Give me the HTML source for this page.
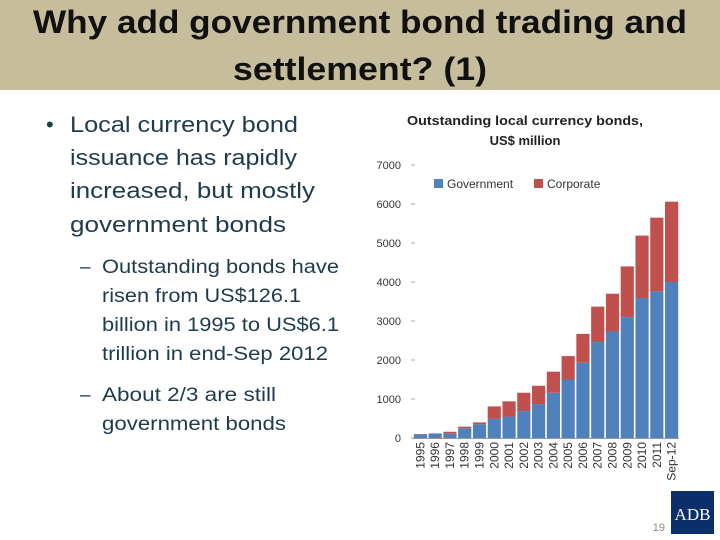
<!DOCTYPE html>
<html><head><meta charset="utf-8"><style>
html,body{margin:0;padding:0;background:#fff;}
svg{display:block;font-family:"Liberation Sans",sans-serif;}
</style></head><body>
<svg id="s" width="720" height="540" viewBox="0 0 720 540">
<rect x="0" y="0" width="720" height="90" fill="#c5bd9b"/>
<text x="360" y="33" text-anchor="middle" font-size="32" font-weight="bold" fill="#111" textLength="654" lengthAdjust="spacingAndGlyphs">Why add government bond trading and</text>
<text x="360" y="80" text-anchor="middle" font-size="32" font-weight="bold" fill="#111" textLength="254" lengthAdjust="spacingAndGlyphs">settlement? (1)</text>
<g fill="#1e3b4b" font-size="22">
<text x="46" y="132">•</text>
<text x="70" y="132" textLength="228" lengthAdjust="spacingAndGlyphs">Local currency bond</text>
<text x="70" y="165" textLength="227" lengthAdjust="spacingAndGlyphs">issuance has rapidly</text>
<text x="70" y="198" textLength="245" lengthAdjust="spacingAndGlyphs">increased, but mostly</text>
<text x="70" y="232" textLength="216" lengthAdjust="spacingAndGlyphs">government bonds</text>
</g>
<g fill="#1e3b4b" font-size="19">
<text x="80" y="273">–</text>
<text x="102" y="273" textLength="237" lengthAdjust="spacingAndGlyphs">Outstanding bonds have</text>
<text x="102" y="302" textLength="199" lengthAdjust="spacingAndGlyphs">risen from US$126.1</text>
<text x="102" y="331" textLength="237" lengthAdjust="spacingAndGlyphs">billion in 1995 to US$6.1</text>
<text x="102" y="360" textLength="226" lengthAdjust="spacingAndGlyphs">trillion in end-Sep 2012</text>
<text x="80" y="401">–</text>
<text x="102" y="401" textLength="174" lengthAdjust="spacingAndGlyphs">About 2/3 are still</text>
<text x="102" y="430" textLength="184" lengthAdjust="spacingAndGlyphs">government bonds</text>
</g>
<text x="525" y="125" text-anchor="middle" font-size="13" font-weight="bold" fill="#222" textLength="236" lengthAdjust="spacingAndGlyphs">Outstanding local currency bonds,</text>
<text x="525" y="145" text-anchor="middle" font-size="13" font-weight="bold" fill="#222">US$ million</text>
<g>
<rect x="434" y="179" width="9" height="9" fill="#4f81bd"/>
<text x="447" y="188" font-size="12" fill="#333">Government</text>
<rect x="534" y="179" width="9" height="9" fill="#c0504d"/>
<text x="547" y="188" font-size="12" fill="#333">Corporate</text>
</g>
<g id="chart"></g>
<text x="665" y="531" text-anchor="end" font-size="11" fill="#888">19</text>
<rect x="671" y="491" width="43" height="43" fill="#0b2f6b"/>
<text x="692.5" y="520" text-anchor="middle" font-family="Liberation Serif,serif" font-size="17" fill="#fff">ADB</text>
</svg>
<script>
const categories=["1995","1996","1997","1998","1999","2000","2001","2002","2003","2004","2005","2006","2007","2008","2009","2010","2011","Sep-12"];
const government=[90,110,110,250,350,490,550,690,870,1160,1500,1930,2460,2730,3100,3590,3760,4000];
const corporate=[10,10,50,40,50,320,390,470,470,540,600,740,910,970,1300,1600,1890,2060];
const yTicks=[0,1000,2000,3000,4000,5000,6000,7000];
const NS="http://www.w3.org/2000/svg";
const g=document.getElementById('chart');
const x0=413,x1=679,y0=438,yTop=165,yMax=7000;
const slot=(x1-x0)/categories.length;
function yS(v){return y0-(v/yMax)*(y0-yTop);}
function xS(i){return x0+i*slot;}
function mk(t,a){const e=document.createElementNS(NS,t);for(const k in a)e.setAttribute(k,a[k]);g.appendChild(e);return e;}
yTicks.forEach(v=>{
 const t=mk('text',{x:401,y:yS(v)+4,'text-anchor':'end','font-size':11,fill:'#333'});
 
 
 t.textContent=v;
 const l=mk('line',{x1:411,x2:415,y1:yS(v),y2:yS(v),stroke:'#aaa'});
 
 
});
categories.forEach((c,i)=>{
 const bx=xS(i)+0.8,bw=slot-1.6;
 const b1=mk('rect',{x:bx,y:yS(government[i]),width:bw,height:y0-yS(government[i]),fill:'#4f81bd'});
 
 
 const tot=government[i]+corporate[i];
 const b2=mk('rect',{x:bx,y:yS(tot),width:bw,height:yS(government[i])-yS(tot),fill:'#c0504d'});
 
 
 const cx=xS(i)+slot/2+4;
 const t=mk('text',{x:cx,y:442,'text-anchor':'end','font-size':12,fill:'#333',transform:`rotate(-90 ${cx} 442)`});
 
 
 t.textContent=c;
});
const ax=mk('line',{x1:x0,x2:x1,y1:y0+0.5,y2:y0+0.5,stroke:'#999'});


</script>
</body></html>
